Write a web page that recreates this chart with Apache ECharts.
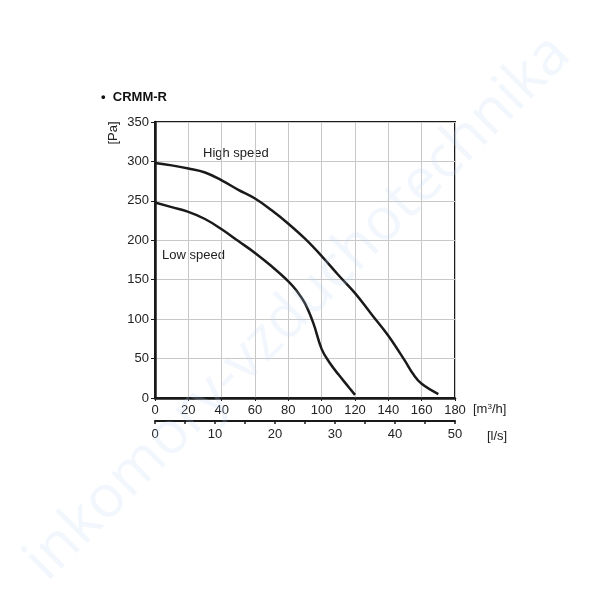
<!DOCTYPE html>
<html>
<head>
<meta charset="utf-8">
<script src="https://cdn.jsdelivr.net/npm/echarts@6/dist/echarts.min.js"></script>
<style>
  html, body { margin: 0; padding: 0; background: #fff; }
  #chart { width: 594px; height: 600px; }
</style>
</head>
<body>
<div id="chart"></div>
<script>
// airflow [m3/h] vs pressure [Pa]
const highSpeed = [
  [0, 298], [10, 295], [20, 291], [30, 286], [40, 276], [50, 264], [60, 253],
  [70, 238], [80, 221], [90, 202], [100, 180], [110, 156], [120, 133],
  [130, 106], [140, 79], [150, 47], [155, 30], [160, 18], [170, 5]
];
const lowSpeed = [
  [0, 248], [10, 242], [20, 236], [30, 227], [40, 214], [50, 199], [60, 184],
  [70, 167], [80, 148], [85, 136], [90, 120], [95, 95], [100, 62],
  [105, 44], [110, 30], [115, 17], [120, 4]
];
const flowTicks = [0, 20, 40, 60, 80, 100, 120, 140, 160, 180];   // m3/h
const lsTicks = [0, 10, 20, 30, 40, 50];                          // l/s
const pressureTicks = [0, 50, 100, 150, 200, 250, 300, 350];

const font = '"Liberation Sans", Arial, sans-serif';
const chart = echarts.init(document.getElementById('chart'));

chart.setOption({
  animation: false,
  backgroundColor: '#fff',
  textStyle: { fontFamily: font },
  grid: {
    left: 155, right: 139, top: 122, bottom: 202,
    show: true, borderColor: '#1a1a1a', borderWidth: 2
  },
  xAxis: [
    {
      type: 'value',
      min: flowTicks[0], max: flowTicks[flowTicks.length - 1], interval: 20,
      axisLine: { lineStyle: { color: '#1a1a1a', width: 2.5 } },
      axisTick: { show: true, length: 3, lineStyle: { color: '#1a1a1a' } },
      axisLabel: { color: '#222', fontSize: 13, margin: 6, fontFamily: font },
      splitLine: { lineStyle: { color: '#c8c8c8', width: 1 } }
    },
    {
      type: 'value',
      position: 'bottom',
      offset: 23,
      min: lsTicks[0], max: lsTicks[lsTicks.length - 1], interval: 5,
      axisLine: { show: true, onZero: false, lineStyle: { color: '#1a1a1a', width: 2 } },
      axisTick: { show: true, length: 3, lineStyle: { color: '#1a1a1a', width: 1.5 } },
      axisLabel: {
        color: '#222', fontSize: 13, margin: 7, fontFamily: font,
        formatter: v => (lsTicks.indexOf(v) >= 0 ? String(v) : '')
      },
      splitLine: { show: false }
    }
  ],
  yAxis: {
    type: 'value',
    min: pressureTicks[0], max: pressureTicks[pressureTicks.length - 1], interval: 50,
    axisLine: { show: true, lineStyle: { color: '#1a1a1a', width: 2.5 } },
    axisTick: { show: true, length: 4, lineStyle: { color: '#1a1a1a' } },
    axisLabel: { color: '#222', fontSize: 13, margin: 6, fontFamily: font },
    splitLine: { lineStyle: { color: '#c8c8c8', width: 1 } }
  },
  series: [
    {
      name: 'High speed', type: 'line', data: highSpeed, xAxisIndex: 0,
      smooth: 0.4, showSymbol: false,
      lineStyle: { color: '#1a1a1a', width: 2.5 }
    },
    {
      name: 'Low speed', type: 'line', data: lowSpeed, xAxisIndex: 0,
      smooth: 0.4, showSymbol: false,
      lineStyle: { color: '#1a1a1a', width: 2.5 }
    }
  ],
  graphic: [
    { type: 'text', left: 101, top: 91,
      style: { text: '•  CRMM-R', font: 'bold 13px ' + font, fill: '#111' } },
    { type: 'text', x: 113, y: 133, rotation: Math.PI / 2,
      style: { text: '[Pa]', font: '13px ' + font, fill: '#222', align: 'center', verticalAlign: 'middle' } },
    { type: 'text', left: 203, top: 147,
      style: { text: 'High speed', font: '13px ' + font, fill: '#222' } },
    { type: 'text', left: 162, top: 249,
      style: { text: 'Low speed', font: '13px ' + font, fill: '#222' } },
    { type: 'text', left: 473, top: 403,
      style: { rich: { a: { font: '13px ' + font, fill: '#222' }, s: { font: '8px ' + font, fill: '#222', verticalAlign: 'top' } },
               text: '{a|[m}{s|3}{a|/h]}' } },
    { type: 'text', left: 487, top: 430,
      style: { text: '[l/s]', font: '13px ' + font, fill: '#222' } },
    { type: 'text', x: 298, y: 308, rotation: Math.PI / 4, z: 100,
      style: { text: 'inkomory-vzduchotechnika', font: '400 59px "Open Sans", sans-serif',
               fill: 'rgba(190,212,245,0.2)', align: 'center', verticalAlign: 'middle' } }
  ]
});
</script>
</body>
</html>
